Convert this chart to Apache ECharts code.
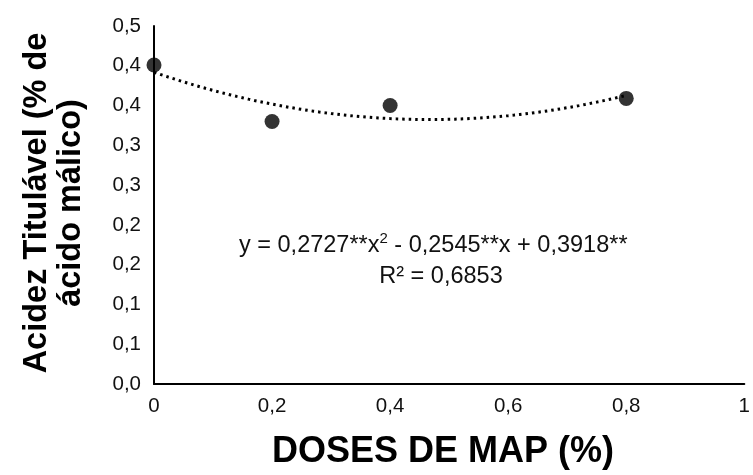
<!DOCTYPE html>
<html>
<head>
<meta charset="utf-8">
<script src="https://cdn.jsdelivr.net/npm/echarts@6/dist/echarts.min.js"></script>
<style>
html,body{margin:0;padding:0;background:#fff;}
#c{width:753px;height:475px;}
</style>
</head>
<body>
<div id="c"></div>
<script>
// Data
const doses = [0, 0.2, 0.4, 0.8];
const acidez = [0.401, 0.330, 0.350, 0.359];
// Trendline coefficients as printed on the chart (a, b, c of a*x^2 + b*x + c)
const trendCoef = [0.2727, -0.2545, 0.3918];
const trendRange = [0, 0.8];
const yTickLabels = ['0,0','0,1','0,1','0,2','0,2','0,3','0,3','0,4','0,4','0,5'];
const xTickLabels = ['0','0,2','0,4','0,6','0,8','1'];
const eqLine1 = 'y = 0,2727**x';
const eqLine2 = 'R² = 0,6853';

const points = doses.map((d, i) => [d, acidez[i]]);
const trend = [];
for (let i = 0; i <= 80; i++) {
  const x = trendRange[0] + (trendRange[1] - trendRange[0]) * i / 80;
  trend.push([x, trendCoef[0] * x * x + trendCoef[1] * x + trendCoef[2]]);
}

const chart = echarts.init(document.getElementById('c'));
const FONT = 'Liberation Sans, Arial, sans-serif';
chart.setOption({
  backgroundColor: '#ffffff',
  animation: false,
  grid: { left: 154, top: 26, width: 603, height: 358, containLabel: false },
  xAxis: {
    type: 'value', min: 0, max: 1, interval: 0.2,
    axisLine: { show: true, lineStyle: { color: '#000', width: 2 } },
    axisTick: { show: false },
    splitLine: { show: false },
    axisLabel: {
      color: '#111', fontSize: 20.5, fontFamily: FONT, margin: 12,
      formatter: v => xTickLabels[Math.round(v / 0.2)]
    }
  },
  yAxis: {
    type: 'value', min: 0, max: 0.45, interval: 0.05,
    axisLine: { show: true, lineStyle: { color: '#000', width: 2 } },
    axisTick: { show: false },
    splitLine: { show: false },
    axisLabel: {
      color: '#111', fontSize: 20.5, fontFamily: FONT, margin: 13,
      formatter: v => yTickLabels[Math.round(v / 0.05)]
    }
  },
  series: [
    {
      type: 'line', data: trend, showSymbol: false, smooth: false,
      lineStyle: { color: '#000', width: 3, type: [2.5, 4] },
      z: 2
    },
    {
      type: 'scatter', data: points, symbol: 'circle', symbolSize: 15,
      itemStyle: { color: '#000' }, z: 3
    }
  ],
  graphic: [
    {
      type: 'text', left: 239, top: 231,
      style: {
        text: '{m|' + eqLine1 + '}{s|2}{m| - 0,2545**x + 0,3918**}',
        rich: {
          m: { fontSize: 23.5, fontFamily: FONT, fill: '#111', lineHeight: 30 },
          s: { fontSize: 15, fontFamily: FONT, fill: '#111', lineHeight: 30, verticalAlign: 'top', padding: [0,0,10,0] }
        }
      }
    },
    {
      type: 'text', x: 441, y: 277,
      style: { text: eqLine2, fontSize: 23.5, fontFamily: FONT, fill: '#111', align: 'center', verticalAlign: 'middle' }
    },
    {
      type: 'text', x: 37, y: 203, rotation: Math.PI / 2,
      style: { text: 'Acidez Titulável (% de', fontSize: 32.5, fontWeight: 'bold', fontFamily: FONT, fill: '#000', align: 'center', verticalAlign: 'middle' }
    },
    {
      type: 'text', x: 71, y: 203, rotation: Math.PI / 2,
      style: { text: 'ácido málico)', fontSize: 32.5, fontWeight: 'bold', fontFamily: FONT, fill: '#000', align: 'center', verticalAlign: 'middle' }
    },
    {
      type: 'text', x: 443, y: 452,
      style: { text: 'DOSES DE MAP (%)', fontSize: 36, fontWeight: 'bold', fontFamily: FONT, fill: '#000', align: 'center', verticalAlign: 'middle' }
    }
  ]
});
</script>
</body>
</html>
